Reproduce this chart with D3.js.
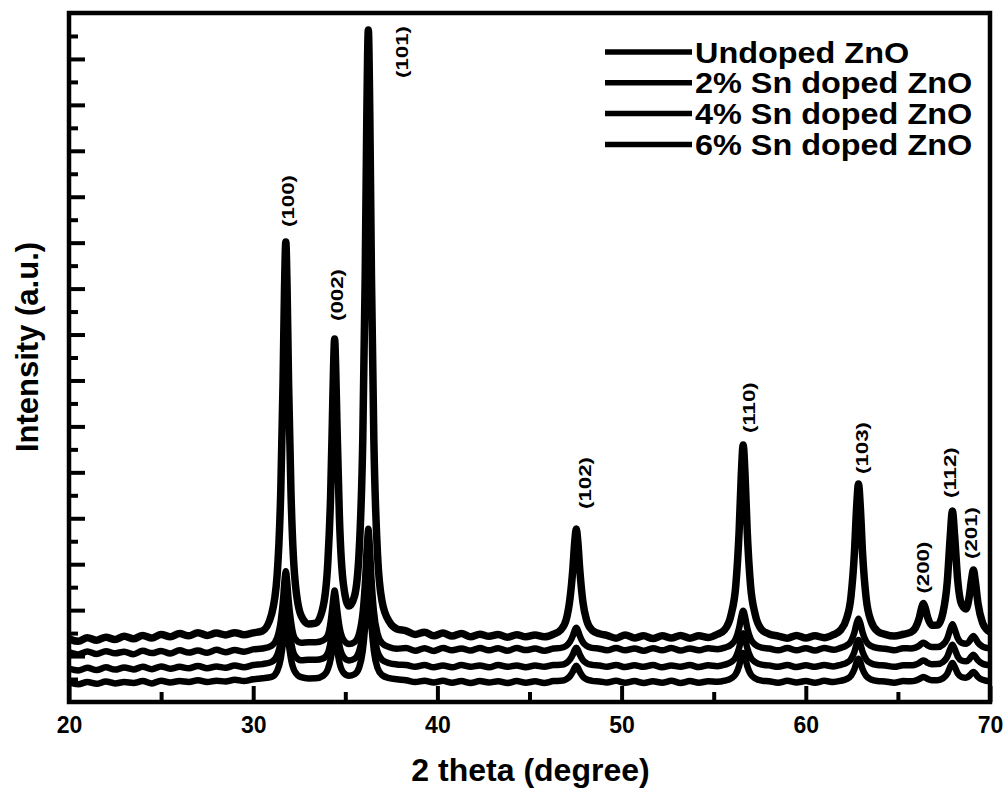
<!DOCTYPE html>
<html>
<head>
<meta charset="utf-8">
<script src="https://cdn.jsdelivr.net/npm/d3@7"></script>
<style>
  body { margin: 0; background: #fff; }
  svg { display: block; }
  text { font-family: "Liberation Sans", Arial, sans-serif; font-weight: bold; fill: #000; }
</style>
</head>
<body>
<svg id="chart" width="1008" height="792"></svg>
<script>
// XRD patterns of undoped and Sn-doped ZnO: 2θ grid shared by all four scans
const twoTheta = [
  20, 20.5, 21, 21.5, 22, 22.5, 23, 23.5, 24, 24.5, 25, 25.5, 26, 26.5, 27, 27.5, 28, 28.5, 29, 29.5, 30, 30.5,
  31.0, 31.3, 31.5, 31.62, 31.7, 31.77, 31.84, 31.92, 32.05, 32.25, 32.6, 33.0, 33.4, 33.8, 34.05, 34.2, 34.3,
  34.36, 34.42, 34.48, 34.55, 34.68, 34.9, 35.2, 35.5, 35.75, 35.95, 36.08, 36.17, 36.25, 36.33, 36.42, 36.55,
  36.75, 37.0, 37.4, 37.8,
  38.3, 38.8, 39.3, 39.8, 40.3, 40.8, 41.3, 41.8, 42.3, 42.8, 43.3, 43.8, 44.3, 44.8, 45.3, 45.8, 46.3, 46.7,
  47.0, 47.2, 47.35, 47.46, 47.54, 47.62, 47.73, 47.9, 48.1, 48.4, 48.8,
  49.2, 49.7, 50.2, 50.7, 51.2, 51.7, 52.2, 52.7, 53.2, 53.7, 54.2, 54.7, 55.2, 55.6,
  55.95, 56.2, 56.38, 56.5, 56.6, 56.7, 56.82, 57.0, 57.25, 57.6, 58.0,
  58.5, 59.0, 59.5, 60.0, 60.5, 61.0, 61.5, 61.9,
  62.2, 62.45, 62.64, 62.76, 62.86, 62.96, 63.08, 63.28, 63.55, 63.9, 64.3,
  64.8, 65.3,
  65.7, 65.95, 66.15, 66.28, 66.38, 66.48, 66.62, 66.85, 67.15, 67.45, 67.68, 67.84, 67.96, 68.08, 68.25,
  68.45, 68.7, 68.88, 69.0, 69.1, 69.2, 69.35, 69.6, 69.8, 70.0
];

// Intensity (a.u.) of each scan, offset as plotted
const undoped = [
  1375, 1320, 1400, 1345, 1410, 1360, 1430, 1375, 1450, 1395, 1470, 1420, 1490, 1440, 1510, 1450, 1500, 1460, 1510, 1465, 1505, 1545,
  1913, 2768, 4648, 6955, 9000, 10015, 9004, 6957, 4579, 2750, 1883, 1700, 1718, 2085, 3033, 4457, 6166,
  7242, 7903, 7260, 6005, 4030, 2555, 2089, 2305, 3266, 5738, 9279, 12824, 14630, 12817, 9264, 5710,
  3208, 2179, 1740, 1590,
  1550, 1470, 1520, 1440, 1500, 1435, 1490, 1420, 1475, 1430, 1470, 1410, 1465, 1420, 1460, 1420, 1475, 1570,
  1804, 2259, 2878, 3509, 3766, 3509, 2878, 2178, 1780, 1563, 1484,
  1450, 1390, 1460, 1395, 1440, 1380, 1440, 1395, 1450, 1390, 1440, 1405, 1475, 1577,
  1912, 2540, 3712, 4967, 5595, 4967, 3712, 2540, 1912, 1577, 1481,
  1435, 1390, 1450, 1395, 1440, 1400, 1465, 1570,
  1802, 2285, 3249, 4247, 4746, 4247, 3249, 2252, 1753, 1540, 1473,
  1435, 1475,
  1518, 1614, 1816, 2036, 2143, 2054, 1837, 1669, 1674, 1952, 2614, 3597, 4158, 3616, 2635,
  2134, 2027, 2310, 2674, 2874, 2640, 2142, 1722, 1586, 1524
];

const sn2 = [
  1085, 1035, 1100, 1045, 1105, 1060, 1095, 1040, 1115, 1065, 1110, 1055, 1125, 1075, 1120, 1070, 1135, 1085, 1130, 1095, 1145, 1165,
  1227, 1398, 1774, 2235, 2644, 2847, 2645, 2235, 1760, 1394, 1290, 1300, 1300, 1340, 1451, 1735, 2077,
  2292, 2425, 2296, 2045, 1650, 1355, 1262, 1305, 1497, 1992, 2700, 3409, 3770, 3407, 2697, 1986,
  1486, 1280, 1192, 1160,
  1175, 1115, 1170, 1110, 1175, 1125, 1165, 1120, 1175, 1125, 1170, 1115, 1175, 1130, 1165, 1115, 1165, 1178,
  1225, 1316, 1440, 1566, 1617, 1566, 1440, 1300, 1220, 1177, 1161,
  1125, 1175, 1125, 1165, 1115, 1170, 1125, 1175, 1120, 1165, 1125, 1170, 1150, 1183,
  1250, 1376, 1610, 1861, 1987, 1861, 1610, 1376, 1250, 1183, 1164,
  1125, 1175, 1125, 1170, 1120, 1175, 1135, 1180,
  1226, 1323, 1516, 1715, 1815, 1715, 1516, 1316, 1217, 1174, 1161,
  1125, 1170,
  1166, 1185, 1225, 1269, 1291, 1273, 1229, 1196, 1197, 1252, 1385, 1581, 1694, 1585, 1389,
  1289, 1267, 1324, 1397, 1437, 1390, 1290, 1206, 1179, 1167
];

const sn4 = [
  725, 685, 745, 695, 755, 705, 750, 710, 765, 715, 775, 725, 765, 735, 785, 735, 775, 745, 795, 755, 805, 825,
  874, 1019, 1339, 1731, 2078, 2251, 2079, 1731, 1327, 1016, 910, 920, 920, 950, 1064, 1306, 1597,
  1780, 1892, 1783, 1569, 1234, 983, 904, 940, 1104, 1524, 2126, 2728, 3036, 2727, 2123, 1519,
  1094, 919, 844, 817,
  805, 765, 805, 755, 795, 755, 805, 765, 795, 755, 805, 765, 795, 755, 795, 765, 805, 809,
  849, 926, 1031, 1138, 1182, 1138, 1031, 912, 845, 808, 794,
  765, 805, 760, 800, 765, 805, 755, 795, 765, 805, 760, 800, 780, 813,
  870, 977, 1176, 1390, 1496, 1390, 1176, 977, 870, 813, 797,
  765, 805, 760, 800, 765, 805, 775, 810,
  850, 932, 1096, 1266, 1350, 1266, 1096, 926, 842, 805, 794,
  765, 800,
  798, 815, 849, 886, 905, 889, 852, 824, 825, 872, 985, 1152, 1247, 1155, 988,
  903, 885, 933, 995, 1029, 989, 904, 833, 810, 799
];

const sn6 = [
  425, 385, 435, 395, 445, 405, 435, 415, 455, 405, 465, 425, 455, 435, 475, 435, 465, 445, 485, 455, 495, 515,
  545, 673, 955, 1301, 1608, 1760, 1609, 1302, 945, 670, 540, 513, 516, 571, 713, 927, 1183,
  1344, 1443, 1347, 1159, 863, 641, 571, 604, 748, 1119, 1650, 2182, 2453, 2181, 1648, 1115,
  739, 585, 519, 495,
  475, 435, 465, 425, 460, 420, 455, 415, 455, 425, 450, 415, 455, 420, 450, 415, 455, 461,
  496, 564, 657, 752, 790, 752, 657, 552, 493, 460, 448,
  425, 460, 420, 455, 415, 450, 420, 460, 415, 455, 420, 450, 440, 465,
  515, 610, 785, 974, 1068, 974, 785, 610, 515, 465, 451,
  420, 460, 425, 455, 420, 460, 435, 462,
  497, 570, 714, 864, 939, 864, 714, 565, 490, 458, 448,
  420, 455,
  452, 466, 496, 529, 545, 532, 500, 474, 475, 517, 616, 764, 848, 766, 619,
  544, 528, 571, 625, 655, 620, 545, 482, 462, 453
];

const seriesNames = ["Undoped ZnO", "2% Sn doped ZnO", "4% Sn doped ZnO", "6% Sn doped ZnO"];

// Indexed reflections of wurtzite ZnO
const peakTheta = [31.77, 34.42, 36.25, 47.54, 56.60, 62.86, 66.38, 67.96, 69.10];
const peakHkl = ["(100)", "(002)", "(101)", "(102)", "(110)", "(103)", "(200)", "(112)", "(201)"];

const xTickValues = [20, 30, 40, 50, 60, 70];
const xMinorValues = [25, 35, 45, 55, 65];

// ---- layout ----
const L = 69, R = 990, T = 13, B = 702;
const svg = d3.select("#chart");

const x = d3.scaleLinear().domain([20, 70]).range([L, R]);
const y = d3.scaleLinear().domain([0, 15000]).range([B, T]);

svg.append("defs").append("clipPath").attr("id", "plot-clip")
  .append("rect").attr("x", L).attr("y", T).attr("width", R - L).attr("height", B - T);

// ---- patterns (the undoped scan is the noisiest, drawn heavier) ----
const scans = [undoped, sn2, sn4, sn6];
const strokeWidths = [7.5, 6.5, 6.5, 6.5];
const line = d3.line()
  .x((d, i) => x(twoTheta[i]))
  .y(d => y(d))
  .curve(d3.curveMonotoneX);

svg.append("g").attr("clip-path", "url(#plot-clip)")
  .selectAll("path")
  .data(scans.map((s, i) => ({ s, w: strokeWidths[i] })).reverse())
  .join("path")
  .attr("d", d => line(d.s))
  .attr("fill", "none")
  .attr("stroke", "#000")
  .attr("stroke-width", d => d.w)
  .attr("stroke-linejoin", "round")
  .attr("stroke-linecap", "round");

// ---- axes (ticks point inward) ----
function styleAxis(g) {
  g.select(".domain").remove();
  g.selectAll(".tick line").attr("stroke", "#000").attr("stroke-width", 4);
}

svg.append("g").attr("transform", `translate(0,${B})`)
  .call(d3.axisBottom(x).tickValues(xTickValues).tickSizeInner(-16).tickSizeOuter(0)
        .tickPadding(15).tickFormat(d3.format("d")))
  .call(styleAxis)
  .call(g => g.selectAll("text").attr("font-size", 23)
    .style("font-family", '"Liberation Sans", Arial, sans-serif').style("font-weight", "bold"));

svg.append("g").attr("transform", `translate(0,${B})`)
  .call(d3.axisBottom(x).tickValues(xMinorValues).tickSizeInner(-10).tickSizeOuter(0).tickFormat(""))
  .call(styleAxis);

const yMajor = d3.range(1000, 15000, 1000);
const yMinor = d3.range(500, 15000, 1000);

svg.append("g").attr("transform", `translate(${L},0)`)
  .call(d3.axisLeft(y).tickValues(yMajor).tickSizeInner(-16).tickSizeOuter(0).tickFormat(""))
  .call(styleAxis);

svg.append("g").attr("transform", `translate(${L},0)`)
  .call(d3.axisLeft(y).tickValues(yMinor).tickSizeInner(-9).tickSizeOuter(0).tickFormat(""))
  .call(styleAxis);

// frame
svg.append("rect")
  .attr("x", L).attr("y", T).attr("width", R - L).attr("height", B - T)
  .attr("fill", "none").attr("stroke", "#000").attr("stroke-width", 4.5);

// ---- axis titles ----
svg.append("text")
  .attr("x", (L + R) / 2 + 1).attr("y", 781)
  .attr("text-anchor", "middle").attr("font-size", 32)
  .text("2 theta (degree)");

svg.append("text")
  .attr("transform", "translate(38,347) rotate(-90)")
  .attr("text-anchor", "middle").attr("font-size", 31)
  .text("Intensity (a.u.)");

// ---- reflection labels above each undoped peak ----
// horizontal nudge and gap (px) between label end and peak tip
const labelPlacement = {
  "(100)": [2, 15], "(002)": [2, 18], "(101)": [34, -48], "(102)": [9, 20], "(110)": [6, 12],
  "(103)": [4, 10], "(200)": [0, 10], "(112)": [-2, 13], "(201)": [-2, 11]
};
peakTheta.forEach((t, k) => {
  const idx = twoTheta.indexOf(t);
  const top = y(undoped[idx]);
  const [dx, gap] = labelPlacement[peakHkl[k]];
  svg.append("text")
    .attr("transform", `translate(${x(t) + dx},${top - gap}) rotate(-90) scale(1.35,1)`)
    .attr("text-anchor", "start")
    .attr("dy", "0.36em")
    .attr("font-size", 16.5)
    .text(peakHkl[k]);
});

// ---- legend ----
const legend = svg.append("g").attr("transform", "translate(605,52)");
const rows = legend.selectAll("g").data(seriesNames).join("g")
  .attr("transform", (d, i) => `translate(0,${i * 30.8})`);
rows.append("line")
  .attr("x1", 0).attr("x2", 87).attr("y1", 0).attr("y2", 0)
  .attr("stroke", "#000").attr("stroke-width", 5.5);
rows.append("text")
  .attr("transform", "translate(90,0) scale(1.08,1)")
  .attr("dy", "0.35em").attr("font-size", 30)
  .text(d => d);
</script>
</body>
</html>
